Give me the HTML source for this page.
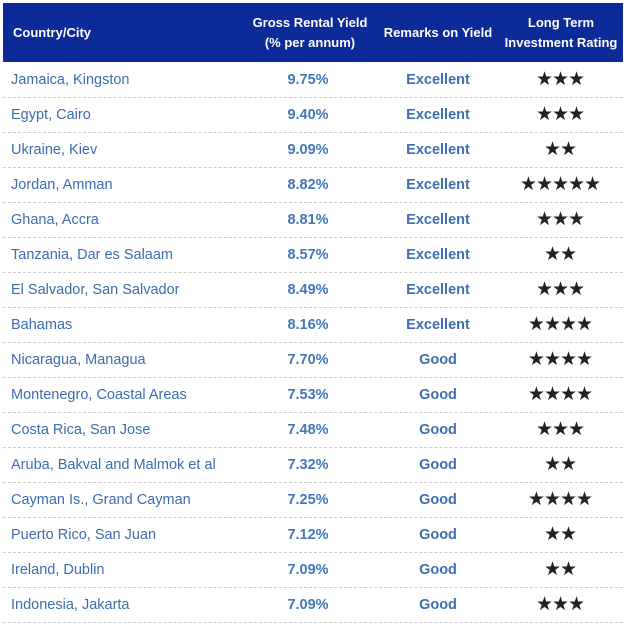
<!DOCTYPE html>
<html><head><meta charset="utf-8">
<style>
body{margin:0;background:#fff;width:626px;height:625px;overflow:hidden;font-family:"Liberation Sans",sans-serif;}
#t{position:absolute;left:3px;top:3px;width:620px;}
.hd{position:absolute;left:0;top:0;width:620px;height:59px;background:#0c2a98;color:#fff;font-weight:bold;font-size:13px;}
.hd div{position:absolute;text-align:center;line-height:20px;}
.row{position:absolute;left:0;width:620px;height:35px;border-bottom:1px dashed #ccc;box-sizing:border-box;font-size:14.5px;}
.row div{position:absolute;top:0;line-height:34px;}
.c1{left:8px;color:#3d6cb0;}
.c2{left:250px;width:110px;text-align:center;color:#4476b8;font-weight:bold;}
.c3{left:380px;width:110px;text-align:center;color:#3f6fb2;font-weight:bold;}
.c4{left:497px;width:120px;text-align:center;color:#222;font-size:19px;letter-spacing:-1px;}
</style></head><body>
<div id="t">
<div class="hd">
<div style="left:10px;top:20px">Country/City</div>
<div style="left:242px;top:10px;width:130px">Gross Rental Yield<br>(% per annum)</div>
<div style="left:375px;top:20px;width:120px">Remarks on Yield</div>
<div style="left:497px;top:10px;width:122px">Long Term<br>Investment Rating</div>
</div>
</div>
<script>
const countries=["Jamaica, Kingston","Egypt, Cairo","Ukraine, Kiev","Jordan, Amman","Ghana, Accra","Tanzania, Dar es Salaam","El Salvador, San Salvador","Bahamas","Nicaragua, Managua","Montenegro, Coastal Areas","Costa Rica, San Jose","Aruba, Bakval and Malmok et al","Cayman Is., Grand Cayman","Puerto Rico, San Juan","Ireland, Dublin","Indonesia, Jakarta"];
const yields=["9.75%","9.40%","9.09%","8.82%","8.81%","8.57%","8.49%","8.16%","7.70%","7.53%","7.48%","7.32%","7.25%","7.12%","7.09%","7.09%"];
const remarks=["Excellent","Excellent","Excellent","Excellent","Excellent","Excellent","Excellent","Excellent","Good","Good","Good","Good","Good","Good","Good","Good"];
const ratings=[3,3,2,5,3,2,3,4,4,4,3,2,4,2,2,3];
const t=document.getElementById('t');
countries.forEach((c,i)=>{
  const r=document.createElement('div');
  r.className='row';r.style.top=(60+i*35)+'px';
  
  
  const vals=[c,yields[i],remarks[i],'★'.repeat(ratings[i])];
  const names=['country-cell','yield-cell','remarks-cell','rating-cell'];
  vals.forEach((v,j)=>{
    const d=document.createElement('div');
    d.className='c'+(j+1);d.textContent=v;
    
    
    r.appendChild(d);
  });
  t.appendChild(r);
});
</script>
</body></html>
